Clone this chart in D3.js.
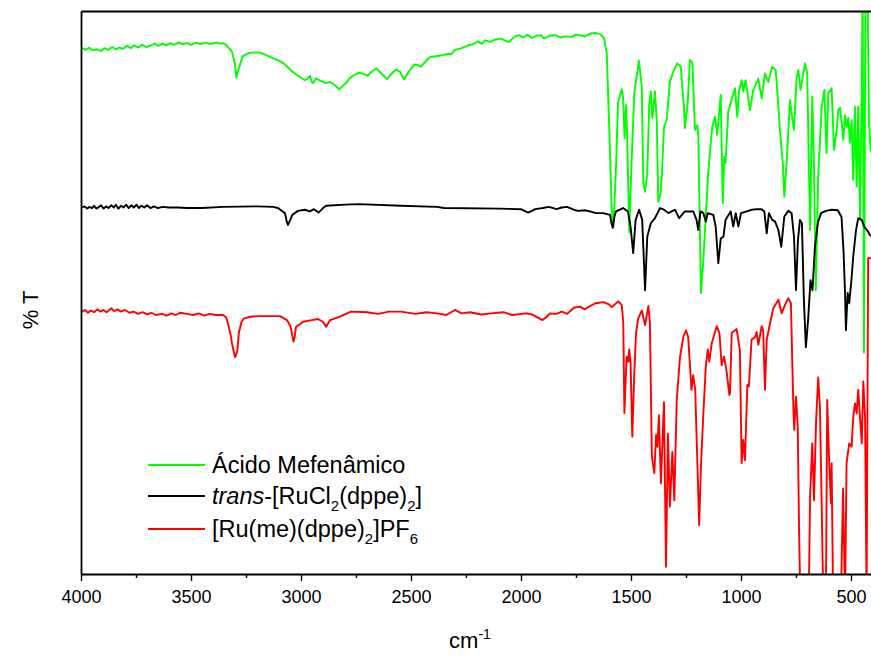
<!DOCTYPE html>
<html><head><meta charset="utf-8">
<script src="https://cdn.jsdelivr.net/npm/d3@7"></script>
<style>
body{margin:0;background:#fff}
svg{display:block}
text{font-family:"Liberation Sans",Arial,Helvetica,sans-serif;fill:#000}
</style>
</head><body>
<svg id="chart" width="871" height="656"></svg>
<script>
// ---------- data (wavenumber cm-1, transmittance % arbitrary offset) ----------
const xMajorTicks = [4000,3500,3000,2500,2000,1500,1000,500];
const xMinorTicks = [3750,3250,2750,2250,1750,1250,750];
const seriesColors = ["#00ff00","#000000","#ff0000"];

const acidoMefenamico = [[3995,93.4],[3980,93.1],[3962,93.5],[3948,93.0],[3930,93.2],[3909,92.9],[3894,93.4],[3877,93.1],[3858,93.6],[3842,93.2],[3826,93.5],[3809,93.3],[3790,93.8],[3774,93.4],[3758,93.9],[3741,93.5],[3722,94.0],[3704,93.6],[3682,93.9],[3664,94.2],[3648,93.8],[3630,94.2],[3612,93.9],[3594,94.3],[3575,94.0],[3556,94.4],[3538,94.1],[3518,94.3],[3498,94.0],[3478,94.4],[3456,94.1],[3433,94.4],[3410,94.1],[3388,94.4],[3366,94.2],[3355,94.3],[3341,94.0],[3314,92.8],[3300,90.5],[3294,88.2],[3285,89.5],[3266,91.9],[3245,92.4],[3227,92.6],[3186,92.6],[3160,92.2],[3127,91.6],[3100,91.2],[3079,90.7],[3060,90.0],[3039,89.2],[3010,88.4],[2982,87.7],[2970,88.0],[2959,88.5],[2950,87.3],[2945,87.2],[2932,88.0],[2910,87.6],[2886,87.2],[2868,87.4],[2845,86.8],[2827,86.1],[2810,86.7],[2795,87.2],[2780,88.0],[2764,88.5],[2738,89.0],[2720,88.9],[2698,88.5],[2680,89.2],[2657,89.8],[2635,88.9],[2609,87.9],[2590,88.8],[2568,89.6],[2550,89.2],[2532,87.9],[2510,89.2],[2486,90.5],[2470,90.4],[2455,90.1],[2430,91.2],[2414,91.8],[2380,92.0],[2350,92.2],[2330,92.4],[2318,92.3],[2300,93.1],[2270,93.4],[2240,93.9],[2218,94.1],[2195,94.6],[2180,94.2],[2162,94.8],[2140,94.5],[2120,94.9],[2091,95.1],[2070,94.7],[2056,94.5],[2030,95.4],[2009,95.7],[1990,95.3],[1970,95.8],[1950,95.2],[1930,95.6],[1909,95.7],[1895,95.1],[1870,95.6],[1845,95.7],[1820,95.3],[1800,95.5],[1770,95.4],[1750,95.8],[1732,95.7],[1710,95.5],[1686,96.0],[1660,96.1],[1641,95.9],[1623,95.2],[1610,92.5],[1600,80.6],[1588,65.2],[1580,61.6],[1568,72.3],[1559,83.7],[1542,86.1],[1536,84.7],[1529,77.4],[1523,83.3],[1518,78.9],[1508,60.7],[1497,73.5],[1485,85.4],[1464,91.2],[1451,86.6],[1444,69.4],[1436,67.9],[1426,71.2],[1417,83.7],[1410,85.7],[1403,81.0],[1391,85.7],[1383,80.6],[1376,66.1],[1365,67.7],[1359,71.5],[1350,79.4],[1338,80.6],[1323,87.4],[1308,89.2],[1290,90.7],[1274,90.1],[1259,83.0],[1255,79.2],[1242,83.7],[1232,91.3],[1221,90.8],[1209,78.9],[1199,79.7],[1194,78.0],[1182,49.9],[1171,55.8],[1149,71.2],[1131,79.4],[1118,81.2],[1108,78.0],[1092,85.1],[1083,65.9],[1076,74.1],[1070,73.0],[1058,82.1],[1027,86.3],[1017,81.2],[1009,85.7],[997,87.7],[989,85.7],[979,87.7],[959,82.4],[944,86.0],[921,88.0],[906,84.5],[891,88.9],[876,87.4],[858,90.1],[842,89.5],[830,83.0],[823,78.9],[810,73.0],[803,67.0],[792,73.5],[777,84.2],[770,81.9],[759,78.9],[747,88.3],[739,89.5],[729,86.0],[709,90.7],[699,89.0],[686,61.1],[676,84.8],[668,72.3],[660,50.4],[649,70.6],[633,83.0],[621,86.0],[611,74.8],[603,85.4],[588,86.3],[577,75.3],[565,78.9],[558,82.4],[550,82.8],[542,80.1],[535,77.1],[527,81.5],[520,79.4],[512,81.0],[505,76.6],[497,80.6],[490,70.0],[482,83.0],[474,68.8],[467,83.0],[459,62.9],[451,86.6],[447,105],[441,39.3],[434,105],[425,105],[418,80],[410,75]];

const transRuCl2 = [[3995,65.1],[3984,65.3],[3972,64.9],[3963,65.2],[3950,65.0],[3941,65.4],[3930,64.9],[3918,65.2],[3909,65.5],[3897,64.9],[3886,65.3],[3875,65.0],[3862,65.5],[3851,65.1],[3842,65.6],[3830,64.9],[3818,65.4],[3806,65.1],[3795,65.6],[3783,65.0],[3771,65.5],[3760,65.1],[3748,65.6],[3737,65.0],[3725,65.4],[3712,65.1],[3700,65.5],[3685,65.0],[3668,65.3],[3650,65.0],[3630,65.2],[3600,65.1],[3560,65.1],[3518,65.0],[3450,65.0],[3355,65.2],[3200,65.3],[3127,65.2],[3105,65.0],[3073,64.1],[3064,62.5],[3059,62.0],[3050,62.8],[3039,63.8],[3014,64.5],[2982,64.7],[2960,64.4],[2941,64.8],[2920,64.2],[2900,65.0],[2886,65.4],[2800,65.6],[2738,65.7],[2545,65.4],[2382,65.2],[2350,65.0],[2100,64.9],[2000,64.8],[1968,64.2],[1950,64.5],[1936,64.8],[1900,65.0],[1873,65.2],[1838,64.8],[1815,65.1],[1791,65.2],[1760,64.7],[1741,64.5],[1710,64.6],[1686,64.4],[1660,64.1],[1627,64.1],[1595,63.8],[1590,62.5],[1583,61.5],[1575,63.5],[1568,64.4],[1536,65.0],[1514,64.4],[1502,61.7],[1490,57.0],[1479,62.9],[1463,64.7],[1449,62.9],[1436,50.4],[1426,59.9],[1410,62.3],[1391,63.2],[1368,65.0],[1350,64.7],[1330,64.1],[1315,64.4],[1300,64.7],[1281,63.2],[1255,64.4],[1217,64.4],[1202,62.9],[1194,61.1],[1184,64.4],[1171,64.1],[1160,62.6],[1151,64.1],[1126,63.8],[1115,61.7],[1103,55.2],[1092,59.6],[1080,59.9],[1070,62.9],[1047,64.4],[1035,61.7],[1024,64.1],[1012,61.7],[1000,64.1],[974,64.4],[951,64.7],[929,64.8],[906,64.8],[894,64.4],[883,60.5],[873,64.1],[858,62.9],[845,62.6],[830,61.1],[817,58.1],[803,63.5],[785,64.5],[770,64.1],[759,59.9],[750,50.4],[741,59.3],[732,62.9],[723,62.3],[714,48.6],[705,40.3],[695,45.1],[684,52.2],[675,50.4],[664,58.1],[650,62.5],[636,64.1],[614,64.5],[587,64.7],[560,64.6],[543,63.4],[534,57.5],[527,49.9],[523,43.3],[515,49.9],[508,48.1],[498,52.2],[490,56.3],[477,61.1],[467,63.2],[451,62.9],[443,62.0],[436,61.5],[427,61.1],[414,60.2],[409,60.0]];

const ruMeDppe = [[3995,46.6],[3982,46.9],[3968,46.4],[3955,46.8],[3940,46.5],[3926,47.0],[3912,46.6],[3898,46.9],[3884,46.5],[3862,47.2],[3850,46.7],[3834,47.0],[3818,46.6],[3800,46.9],[3780,46.4],[3761,46.6],[3740,46.2],[3720,46.5],[3700,46.1],[3680,46.4],[3660,46.0],[3632,46.2],[3610,45.9],[3590,46.3],[3570,46.0],[3550,46.4],[3518,46.2],[3490,46.0],[3465,46.3],[3440,45.9],[3415,46.2],[3388,46.0],[3355,46.0],[3340,45.6],[3332,44.5],[3320,42.5],[3314,41.0],[3300,38.5],[3290,39.5],[3282,43.0],[3270,44.8],[3259,45.4],[3230,45.7],[3193,45.8],[3140,45.8],[3095,45.8],[3064,45.1],[3048,44.0],[3040,42.5],[3034,41.3],[3028,42.2],[3023,43.9],[3000,44.5],[2991,44.8],[2950,45.1],[2923,45.3],[2900,44.8],[2886,43.9],[2868,45.1],[2823,45.7],[2773,46.6],[2700,46.5],[2650,46.2],[2600,46.6],[2545,46.6],[2480,46.2],[2430,46.5],[2382,46.3],[2340,46.0],[2300,46.9],[2270,46.3],[2232,46.5],[2180,46.1],[2136,46.3],[2080,46.5],[2040,46.0],[1977,46.3],[1950,46.1],[1936,45.8],[1902,45.1],[1885,45.6],[1868,46.3],[1840,46.2],[1814,46.6],[1790,46.2],[1760,47.3],[1732,47.5],[1710,47.0],[1686,47.6],[1660,48.1],[1626,48.3],[1600,47.9],[1588,47.4],[1558,48.4],[1542,47.8],[1535,44.6],[1530,28.6],[1520,38.6],[1512,37.7],[1508,39.9],[1502,37.7],[1494,24.4],[1485,35.6],[1477,42.8],[1467,45.4],[1451,46.8],[1436,44.2],[1421,47.6],[1414,44.6],[1405,20.8],[1394,17.9],[1386,24.7],[1380,22.6],[1373,28.2],[1364,16.1],[1350,30.5],[1341,1.3],[1332,24.9],[1323,12.0],[1312,21.7],[1303,13.1],[1292,30.9],[1277,38.6],[1262,42.1],[1250,43.3],[1240,42.1],[1225,32.7],[1217,35.3],[1208,32.7],[1199,20.8],[1190,8.7],[1182,19.1],[1171,28.5],[1160,36.8],[1151,39.9],[1144,37.7],[1133,41.0],[1110,44.0],[1098,42.8],[1088,37.1],[1077,38.6],[1065,35.9],[1053,31.8],[1050,32.1],[1042,42.8],[1020,43.5],[1005,39.8],[997,19.7],[990,23.8],[982,20.2],[971,33.6],[964,33.3],[952,41.6],[936,42.1],[929,43.0],[921,40.7],[906,44.0],[899,43.3],[891,32.7],[883,41.6],[868,44.5],[853,47.2],[830,48.7],[815,46.3],[800,47.8],[785,49.0],[773,48.1],[762,29.7],[758,25.6],[750,31.5],[742,26.2],[736,7.8],[730,-5],[692,-5],[686,13.7],[676,23.2],[668,13.1],[659,26.8],[649,34.9],[641,29.7],[633,12.0],[626,-5],[614,-5],[608,30.9],[599,19.7],[591,12.6],[588,19.7],[581,-5],[546,-5],[536,15.2],[527,-5],[520,19.7],[508,23.2],[497,22.6],[490,27.7],[482,30.3],[474,28.5],[467,32.7],[459,27.9],[451,23.2],[444,34.2],[436,27.9],[429,-5],[422,56.1],[414,56.1],[409,56.1]];

const seriesData = [acidoMefenamico, transRuCl2, ruMeDppe];

// ---------- chart ----------
const svg = d3.select("#chart");
svg.append("rect").attr("width",871).attr("height",656).attr("fill","#fff");

const x = d3.scaleLinear().domain([4000,409]).range([81,871]);
const y = d3.scaleLinear().domain([0,100]).range([574,11]);

svg.append("defs").append("clipPath").attr("id","plotclip")
  .append("rect").attr("x",x(4000)).attr("y",y(100))
  .attr("width",x(409)-x(4000)).attr("height",y(0)-y(100));

const line = d3.line().x(d=>x(d[0])).y(d=>y(d[1]));
const g = svg.append("g").attr("clip-path","url(#plotclip)");
seriesData.forEach((s,i)=>{
  g.append("path").datum(s).attr("d",line)
   .attr("fill","none").attr("stroke",seriesColors[i])
   .attr("stroke-width",1.9).attr("stroke-linejoin","round");
});

// axes
const xAxis = d3.axisBottom(x).tickValues(xMajorTicks).tickFormat(d3.format("d")).tickSize(7).tickSizeOuter(0).tickPadding(9);
const xa = svg.append("g").attr("transform",`translate(0,${y(0)})`).call(xAxis);
xa.select(".domain").attr("stroke-width",1.8);
xa.selectAll(".tick line").attr("stroke-width",1.4);
xa.selectAll(".tick text").attr("font-size",18).attr("font-family","Liberation Sans, Arial, sans-serif");

const xMinor = d3.axisBottom(x).tickValues(xMinorTicks).tickFormat("").tickSize(4).tickSizeOuter(0);
const xm = svg.append("g").attr("transform",`translate(0,${y(0)})`).call(xMinor);
xm.select(".domain").remove();
xm.selectAll(".tick line").attr("stroke-width",1.4);

const yAxis = d3.axisLeft(y).tickValues([]).tickSizeOuter(0);
svg.append("g").attr("transform",`translate(${x(4000)},0)`).call(yAxis)
  .select(".domain").attr("stroke-width",1.8);
const topAxis = d3.axisTop(x).tickValues([]).tickSizeOuter(0);
svg.append("g").attr("transform",`translate(0,${y(100)})`).call(topAxis)
  .select(".domain").attr("stroke-width",1.8);

// axis titles
const xt = svg.append("text").attr("x",470).attr("y",648).attr("text-anchor","middle").attr("font-size",22);
xt.append("tspan").text("cm");
xt.append("tspan").attr("font-size",14).attr("dy",-9).text("-1");

svg.append("text").attr("transform","translate(38,310) rotate(-90)")
  .attr("text-anchor","middle").attr("font-size",22).text("% T");

// legend
const legY = [465,496,529];
const legX1 = 148, legX2 = 205, legTX = 212;
legY.forEach((ly,i)=>{
  svg.append("line").attr("x1",legX1).attr("x2",legX2).attr("y1",ly).attr("y2",ly)
    .attr("stroke",seriesColors[i]).attr("stroke-width",1.9);
});
const fs = 23.5, sub = 15;
svg.append("text").attr("x",legTX).attr("y",legY[0]+8).attr("font-size",fs).text("Ácido Mefenâmico");
const t2 = svg.append("text").attr("x",legTX).attr("y",legY[1]+8).attr("font-size",fs);
t2.append("tspan").attr("font-style","italic").text("trans");
t2.append("tspan").text("-[RuCl");
t2.append("tspan").attr("font-size",sub).attr("dy",7).text("2");
t2.append("tspan").attr("dy",-7).text("(dppe)");
t2.append("tspan").attr("font-size",sub).attr("dy",7).text("2");
t2.append("tspan").attr("dy",-7).text("]");
const t3 = svg.append("text").attr("x",legTX).attr("y",legY[2]+8).attr("font-size",fs);
t3.append("tspan").text("[Ru(me)(dppe)");
t3.append("tspan").attr("font-size",sub).attr("dy",7).text("2");
t3.append("tspan").attr("dy",-7).text("]PF");
t3.append("tspan").attr("font-size",sub).attr("dy",7).text("6");
</script>
</body></html>
